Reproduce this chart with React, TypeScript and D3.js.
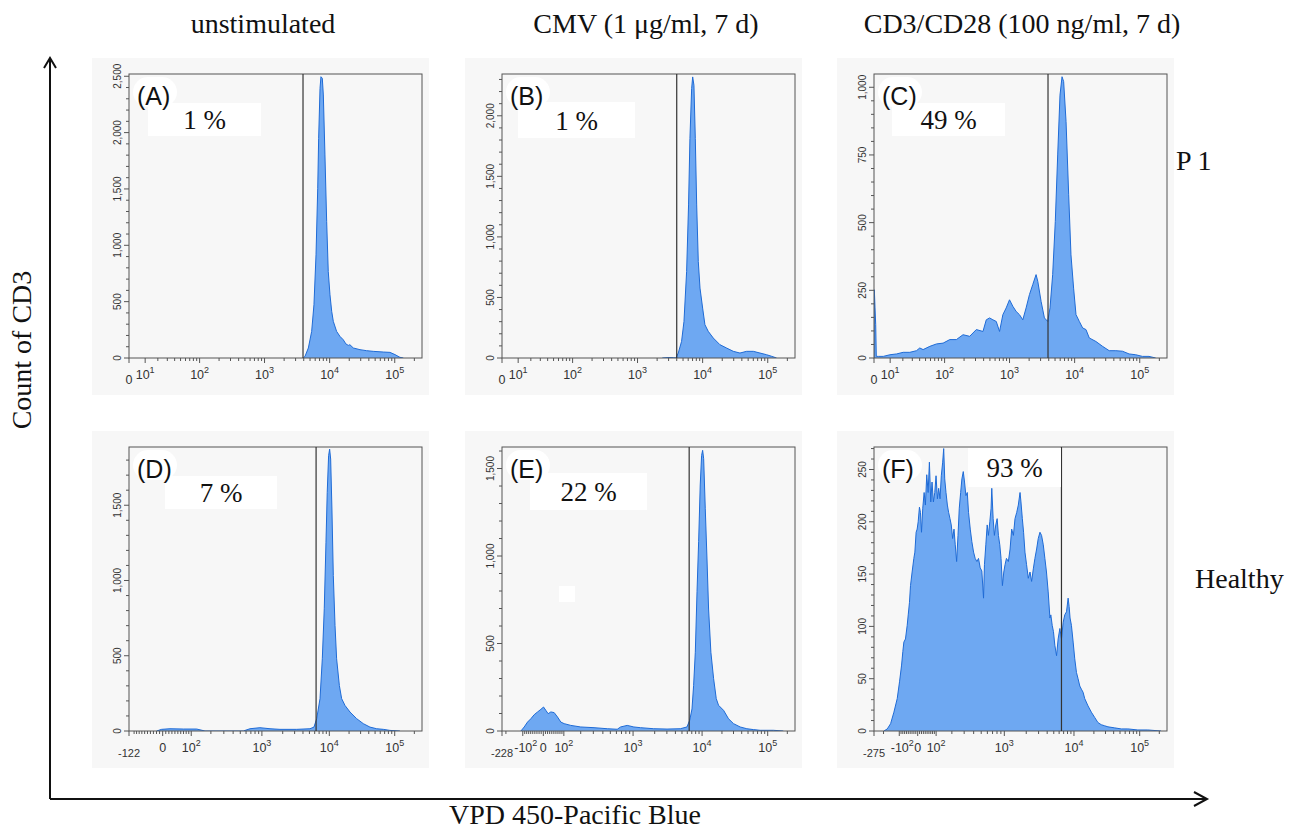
import React from "react";
import * as d3 from "d3";

// ---------------- data ----------------
const columnTitles = ["unstimulated", "CMV (1 μg/ml, 7 d)", "CD3/CD28 (100 ng/ml, 7 d)"];
const rowLabels = ["P 1", "Healthy"];
const panelLetters = ["(A)", "(B)", "(C)", "(D)", "(E)", "(F)"];
const percentLabels = ["1 %", "1 %", "49 %", "7 %", "22 %", "93 %"];
const xAxisMin = [0, 0, 0, -122, -228, -275];
const yAxisMax = [2520, 2345, 1049, 1887, 1623, 271.5];
const yMajorStep = [500, 500, 250, 500, 500, 50];
const yMinorStep = [100, 100, 50, 100, 100, 10];
const gateValues = [3900, 4000, 3900, 6300, 6400, 6500];
const xAxisTitle = "VPD 450-Pacific Blue";
const yAxisTitle = "Count of CD3";

// histogram bins: [channel (0-256 across display), count]
const histA: [number, number][] = [
  [152.3, 0], [153.8, 15], [156.7, 89], [159.6, 236], [161.6, 473], [163.4, 916], [164.9, 1506],
  [165.7, 1949], [166.9, 2393], [167.7, 2496], [168.9, 2482], [169.8, 2334], [171.2, 1802],
  [172.7, 1211], [174.1, 768], [175.6, 561], [177.1, 414], [178.5, 325], [181.4, 236],
  [184.3, 192], [187.2, 162], [189.5, 125], [191.6, 112], [193, 118], [196.0, 89], [201.8, 74],
  [207.6, 65], [213.4, 59], [222.2, 53], [228.0, 50], [232.4, 30], [236.7, 6], [239.7, 0],
];
const histB: [number, number][] = [
  [140, 0], [145, 4], [150, 3], [152.0, 0], [154.0, 41], [156.9, 137], [159.0, 302], [161.3, 714],
  [163.0, 1264], [164.2, 1813], [165.7, 2225], [166.6, 2321], [167.7, 2252], [168.9, 1813],
  [170.1, 1264], [171.5, 797], [173.0, 577], [175.3, 412], [177.3, 275], [180.2, 220],
  [184.6, 165], [190.4, 110], [196.3, 82], [202.1, 55], [207.9, 41], [213.7, 55], [219.6, 55],
  [225.4, 41], [231.2, 27], [235.6, 14], [239.9, 0],
];
const histC: [number, number][] = [
  [0, 0], [0.3, 252], [0.9, 185], [1.5, 123], [2.0, 6], [3.8, 6], [8.1, 6], [13.9, 12],
  [19.7, 15], [25.5, 21], [31.3, 21], [37.1, 27], [40.0, 37], [42.9, 31], [48.8, 43],
  [54.6, 52], [60.4, 55], [66.2, 68], [72.0, 68], [77.8, 86], [83.6, 80], [89.4, 105],
  [95.2, 98], [98.1, 141], [101.0, 148], [103.9, 141], [106.8, 135], [109.7, 98], [112.6, 160],
  [115.5, 185], [118.4, 215], [121.3, 191], [124.2, 172], [127.1, 160], [130.0, 141],
  [132.9, 185], [135.8, 234], [138.7, 271], [141.6, 308], [143.1, 283], [146.0, 209],
  [148.9, 148], [151.8, 135], [153.8, 185], [156.1, 308], [158.4, 504], [160.5, 750],
  [162.5, 971], [164.3, 1039], [165.7, 1021], [167.8, 873], [170.1, 603], [172.1, 381],
  [174.4, 258], [176.5, 160], [179.4, 135], [182.3, 111], [185.2, 105], [188.1, 74],
  [193.9, 61], [199.7, 43], [205.5, 27], [211.3, 27], [217.1, 25], [222.9, 15], [228.7, 12],
  [234.5, 6], [240.3, 6], [246.1, 0],
];
const histD: [number, number][] = [
  [24.2, 0], [28.5, 11], [35.8, 15], [47.5, 13], [59.1, 13], [66.4, 0], [99.9, 0], [105.7, 15],
  [114.4, 22], [123.2, 15], [131.9, 11], [146.5, 11], [158.1, 15], [161.6, 26], [164.0, 82],
  [166.9, 215], [168.9, 480], [170.6, 812], [172.1, 1254], [173.2, 1586], [174.4, 1829],
  [175.3, 1873], [176.2, 1807], [177.3, 1475], [178.5, 1033], [180.0, 701], [181.4, 480],
  [183.8, 302], [185.8, 215], [188.7, 170], [193.1, 126], [198.9, 82], [204.7, 49],
  [210.5, 26], [216.4, 15], [222.2, 11], [228.0, 4], [236.7, 0],
];
const histE: [number, number][] = [
  [16.5, 0], [19.4, 23], [22.3, 51], [25.2, 70], [28.1, 93], [31.1, 109], [34.0, 124],
  [36.3, 137], [38.3, 118], [40.3, 99], [42.7, 109], [45.6, 105], [48.5, 80], [51.4, 51],
  [54.3, 42], [60.1, 32], [68.8, 23], [80.4, 19], [92.0, 13], [100.7, 10], [103.6, 23],
  [109.4, 32], [115.2, 23], [121.0, 19], [132.6, 13], [144.2, 11], [155.8, 13], [161.6, 23],
  [164.0, 61], [166.0, 126], [167.4, 259], [168.9, 450], [170.4, 796], [171.8, 1082],
  [173.2, 1406], [174.4, 1575], [175.3, 1604], [176.2, 1556], [177.6, 1270], [179.1, 983],
  [180.5, 697], [182.5, 450], [184.9, 299], [187.2, 185], [189.2, 147], [193.6, 118],
  [197.9, 70], [202.3, 42], [208.1, 23], [213.9, 13], [219.7, 8], [225.5, 4], [237.1, 4],
  [245.8, 0],
];
const histF: [number, number][] = [
  [8.7, 0], [11.6, 2], [14.5, 7], [17.4, 18], [20.3, 31], [22.3, 47], [24.1, 63], [25.2, 76],
  [26.1, 85], [27.5, 88], [29.0, 101], [29.9, 111], [31.0, 123], [31.9, 139], [33.3, 152],
  [34.8, 165], [35.7, 171], [36.8, 190], [37.7, 193], [38.6, 200], [39.7, 214], [40.6, 209],
  [41.5, 190], [42.6, 213], [43.8, 228], [44.9, 216], [46.1, 245], [47.3, 228], [48.4, 257],
  [49.6, 219], [50.7, 238], [51.9, 219], [53.1, 228], [54.2, 244], [55.4, 222], [56.5, 232],
  [57.7, 222], [58.8, 244], [60.0, 257], [60.9, 270], [61.8, 241], [62.9, 228], [64.1, 216],
  [65.2, 209], [66.4, 203], [67.5, 197], [68.7, 184], [69.9, 193], [71.0, 178], [72.2, 162],
  [73.4, 187], [74.5, 213], [75.7, 228], [76.8, 241], [78.0, 248], [79.1, 238], [80.3, 225],
  [81.5, 228], [82.6, 209], [84.1, 193], [85.5, 181], [87.0, 171], [88.4, 165], [89.9, 162],
  [91.3, 165], [92.8, 156], [94.2, 153], [95.7, 127], [96.5, 159], [97.7, 178], [98.9, 197],
  [100.0, 187], [101.2, 200], [102.3, 213], [102.9, 232], [104.1, 203], [105.2, 187],
  [106.4, 197], [107.6, 203], [108.7, 187], [109.9, 178], [111.0, 165], [112.2, 139],
  [113.4, 152], [114.5, 159], [115.7, 165], [117.4, 162], [118.9, 174], [120.3, 193],
  [121.8, 187], [123.2, 203], [124.7, 209], [126.1, 216], [127.6, 228], [128.4, 219],
  [129.6, 203], [130.7, 190], [131.9, 171], [133.3, 159], [134.8, 146], [136.3, 152],
  [137.7, 143], [139.2, 155], [140.6, 165], [142.1, 174], [143.5, 184], [145.0, 190],
  [146.4, 187], [147.9, 178], [149.3, 165], [150.7, 152], [152.2, 133], [153.7, 108],
  [154.5, 111], [155.7, 101], [156.8, 95], [158.0, 82], [159.5, 72], [160.9, 88], [162.4, 98],
  [163.8, 88], [165.3, 104], [166.7, 111], [168.2, 114], [169.6, 127], [170.5, 119],
  [171.3, 108], [172.5, 101], [174.0, 85], [175.4, 69], [176.9, 56], [178.3, 50], [179.8, 43],
  [181.2, 40], [182.7, 37], [184.1, 31], [187.0, 24], [189.9, 18], [192.8, 13], [195.7, 8],
  [198.6, 6], [201.5, 5], [204.4, 4], [210.2, 3], [216.0, 2], [221.8, 2], [230.5, 1],
  [239.2, 1], [250.8, 0],
];
const histograms = [histA, histB, histC, histD, histE, histF];

// ---------------- logicle transform ----------------
const T_TOP = 262144;
const M_DEC = 4.5;
const N_CH = 256;

function solveP(W: number) {
  if (W <= 0) return 1;
  let lo = 1, hi = 1000;
  for (let i = 0; i < 200; i++) {
    const mid = (lo + hi) / 2;
    const f = (2 * mid * Math.log(mid)) / (mid + 1) - W * Math.LN10;
    if (f > 0) hi = mid; else lo = mid;
  }
  return (lo + hi) / 2;
}
function buildS(W: number) {
  const p = solveP(W);
  const C = T_TOP * Math.pow(10, -(M_DEC - W));
  const S = (z: number): number => {
    if (z >= W) {
      const d = z - W;
      return C * (Math.pow(10, d) - p * p * Math.pow(10, -d / p) + p * p - 1);
    }
    return -S(2 * W - z);
  };
  return S;
}
function makeLogicle(min: number) {
  let W = 0;
  if (min < 0) {
    let lo = 0, hi = 2;
    for (let i = 0; i < 100; i++) {
      const mid = (lo + hi) / 2;
      const v = buildS(mid)(0);
      if (v > min) lo = mid; else hi = mid;
    }
    W = (lo + hi) / 2;
  }
  const S = buildS(W);
  const toChannel = (v: number) => {
    let lo = -2, hi = M_DEC + 1;
    for (let i = 0; i < 80; i++) {
      const mid = (lo + hi) / 2;
      if (S(mid) < v) lo = mid; else hi = mid;
    }
    return ((lo + hi) / 2 / M_DEC) * N_CH;
  };
  return { W, toChannel };
}

// ---------------- layout ----------------
const W_PX = 1290, H_PX = 832;
const colLeft = [129, 502, 874];
const rowTop = [74, 447];
const boxW = 293, boxH = 284;
const titleX = [263, 646, 1022];
const pctBox = [
  { dx: 19, dy: 29, w: 113, h: 33 },
  { dx: 16, dy: 28, w: 117, h: 36 },
  { dx: 18, dy: 29, w: 113, h: 33 },
  { dx: 36, dy: 29, w: 112, h: 33 },
  { dx: 28, dy: 26, w: 117, h: 37 },
  { dx: 94, dy: 1, w: 93, h: 39 },
];
const FILL = "#6ea8f2";
const STROKE = "#1f6bd6";
const AXIS = "#555";
const TICKTXT = "#333";
const SANS = "'Liberation Sans', Arial, sans-serif";
const SERIF = "'Liberation Serif', 'Times New Roman', serif";

function Sup({ base, exp, neg }: { base: string; exp: string; neg?: boolean }) {
  return (
    <>
      <tspan>{(neg ? "-" : "") + base}</tspan>
      <tspan dy={-6} fontSize={9}>{exp}</tspan>
    </>
  );
}

type Major = { v: number; label: React.ReactNode; low?: boolean; dx?: number; size?: number };

function Panel({ i }: { i: number }) {
  const col = i % 3, row = Math.floor(i / 3);
  const left = colLeft[col], top = rowTop[row];
  const right = left + boxW, bottom = top + boxH;
  const lg = makeLogicle(xAxisMin[i]);
  const x = d3.scaleLinear().domain([0, N_CH]).range([left, right]);
  const y = d3.scaleLinear().domain([0, yAxisMax[i]]).range([bottom, top]);
  const xv = (v: number) => x(lg.toChannel(v));
  const data = histograms[i];
  const area = d3.area<[number, number]>().x((d) => x(d[0])).y0(y(0)).y1((d) => y(d[1]));
  const line = d3.line<[number, number]>().x((d) => x(d[0])).y((d) => y(d[1]));

  // y ticks
  const yTicks: { v: number; major: boolean }[] = [];
  for (let v = 0; v <= yAxisMax[i] + 1e-6; v += yMinorStep[i]) {
    const major = Math.abs(v / yMajorStep[i] - Math.round(v / yMajorStep[i])) < 1e-6;
    yTicks.push({ v, major });
  }
  // x ticks
  const min = xAxisMin[i];
  const majors: Major[] = [];
  const minors: number[] = [];
  if (min === 0) {
    majors.push({ v: 0, label: "0", low: true });
    for (let j = 1; j <= 5; j++) majors.push({ v: Math.pow(10, j), label: <Sup base="10" exp={String(j)} /> });
    for (let j = 1; j <= 5; j++)
      for (let k = 2; k <= 9; k++) { const v = k * Math.pow(10, j); if (v < T_TOP) minors.push(v); }
  } else {
    majors.push({ v: min, label: String(min), low: true, size: 11 });
    if (min < -150) majors.push({ v: -100, label: <Sup base="10" exp="2" neg />, dx: 3 });
    majors.push({ v: 0, label: "0" });
    for (let j = 2; j <= 5; j++) majors.push({ v: Math.pow(10, j), label: <Sup base="10" exp={String(j)} /> });
    for (let j = 1; j <= 5; j++)
      for (let k = 1; k <= 9; k++) {
        const v = k * Math.pow(10, j);
        if (v < T_TOP && !(k === 1 && j >= 2)) minors.push(v);
        if (-v > min && !(k === 1 && j === 2 && min < -150)) minors.push(-v);
      }
  }
  const bgL = left - 37, bgT = top - 16;
  const pb = pctBox[i];
  const clipId = `clip${i}`;
  return (
    <g>
      <rect x={bgL} y={bgT} width={337} height={337} fill="#f7f7f7" />
      <defs>
        <clipPath id={clipId}>
          <rect x={left} y={top} width={boxW} height={boxH} />
        </clipPath>
      </defs>
      <g clipPath={`url(#${clipId})`}>
        <path d={area(data) || ""} fill={FILL} />
        <path d={line(data) || ""} fill="none" stroke={STROKE} strokeWidth={1} />
      </g>
      <rect x={left} y={top} width={boxW} height={boxH} fill="none" stroke={AXIS} strokeWidth={1} />
      {/* gate */}
      <line x1={xv(gateValues[i])} x2={xv(gateValues[i])} y1={top} y2={bottom} stroke="#333" strokeWidth={1.2} />
      {/* y axis ticks */}
      {yTicks.map((t, k) => (
        <g key={"y" + k}>
          <line x1={left - (t.major ? 5 : 3)} x2={left} y1={y(t.v)} y2={y(t.v)} stroke={AXIS} strokeWidth={1} />
          {t.major && (
            <text
              transform={`translate(${left - 8},${y(t.v)}) rotate(-90)`}
              textAnchor="middle"
              fontFamily={SANS}
              fontSize={10}
              fill={TICKTXT}
            >
              {d3.format(",")(t.v)}
            </text>
          )}
        </g>
      ))}
      {/* x axis ticks */}
      {minors.map((v, k) => (
        <line key={"m" + k} x1={xv(v)} x2={xv(v)} y1={bottom} y2={bottom + 3} stroke={AXIS} strokeWidth={1} />
      ))}
      {majors.map((t, k) => (
        <g key={"M" + k}>
          <line x1={xv(t.v)} x2={xv(t.v)} y1={bottom} y2={bottom + 5} stroke={AXIS} strokeWidth={1} />
          <text
            x={xv(t.v) + (t.dx || 0)}
            y={bottom + (t.low ? 26 : 21)}
            textAnchor="middle"
            fontFamily={SANS}
            fontSize={t.size || 12.5}
            fill={TICKTXT}
          >
            {t.label}
          </text>
        </g>
      ))}
      {/* percentage */}
      <rect x={left + pb.dx} y={top + pb.dy} width={pb.w} height={pb.h} fill="#fff" />
      <text x={left + pb.dx + pb.w / 2} y={top + pb.dy + pb.h / 2 + 9.5} textAnchor="middle" fontFamily={SERIF} fontSize={27} fill="#111">
        {percentLabels[i]}
      </text>
      {i === 4 && <rect x={559} y={586} width={16} height={16} fill="#fff" />}
      {/* letter (drawn on top) */}
      <rect x={left + 4} y={top + 3} width={44} height={30} rx={15} fill="#fff" />
      <text x={left + 8} y={top + 31} fontFamily={SANS} fontSize={25} fill="#111">
        {panelLetters[i]}
      </text>
    </g>
  );
}

export default function App() {
  return (
    <svg width={W_PX} height={H_PX} style={{ display: "block", position: "absolute", left: 0, top: 0 }}>
      <rect x={0} y={0} width={W_PX} height={H_PX} fill="#fff" />
      {columnTitles.map((t, k) => (
        <text key={t} x={titleX[k]} y={33} textAnchor="middle" fontFamily={SERIF} fontSize={28} fill="#111">
          {t}
        </text>
      ))}
      <text x={1176} y={170} fontFamily={SERIF} fontSize={28} fill="#111">{rowLabels[0]}</text>
      <text x={1195} y={588} fontFamily={SERIF} fontSize={28} fill="#111">{rowLabels[1]}</text>
      <text transform="translate(31,350) rotate(-90)" textAnchor="middle" fontFamily={SERIF} fontSize={28} fill="#111">
        {yAxisTitle}
      </text>
      <text x={575} y={824} textAnchor="middle" fontFamily={SERIF} fontSize={28} fill="#111">
        {xAxisTitle}
      </text>
      {[0, 1, 2, 3, 4, 5].map((i) => (
        <Panel key={i} i={i} />
      ))}
      {/* frame arrows */}
      <path d="M50,799 L50,58 M1207,799 L50,799" stroke="#111" strokeWidth={2} fill="none" />
      <path d="M44,68 L50,58 L56,68" stroke="#111" strokeWidth={2} fill="none" />
      <path d="M1194,792 L1207,799 L1194,806" stroke="#111" strokeWidth={2} fill="none" />
    </svg>
  );
}
